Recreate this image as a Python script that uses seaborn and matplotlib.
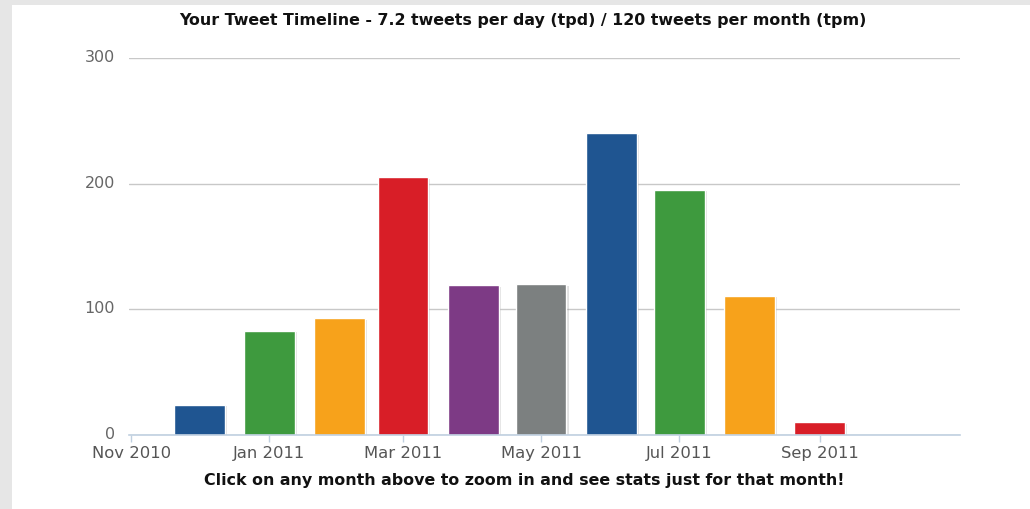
import matplotlib
matplotlib.use("Agg")
import matplotlib.pyplot as plt
import matplotlib.dates as mdates
import matplotlib.patheffects as pe
import matplotlib.transforms as mtransforms
from matplotlib.patches import Rectangle
import seaborn as sns
import pandas as pd

# ---- data ----
months = ["2010-12", "2011-01", "2011-02", "2011-03", "2011-04",
          "2011-05", "2011-06", "2011-07", "2011-08", "2011-09"]
tweets = [24, 83, 93, 205, 119, 120, 240, 195, 111, 10]
bar_colors = ["#1f5591", "#3e9a3e", "#f7a21b", "#d81e27", "#7d3a85",
              "#7c8080", "#1f5591", "#3e9a3e", "#f7a21b", "#d81e27"]
tick_months = ["2010-11", "2011-01", "2011-03", "2011-05", "2011-07", "2011-09"]
tick_labels = ["Nov 2010", "Jan 2011", "Mar 2011", "May 2011", "Jul 2011", "Sep 2011"]
y_ticks = [0, 100, 200, 300]
title = "Your Tweet Timeline - 7.2 tweets per day (tpd) / 120 tweets per month (tpm)"
footer = "Click on any month above to zoom in and see stats just for that month!"

sns.set_theme(style="white")
plt.rcParams["font.family"] = ["DejaVu Sans"]

W, H = 1030, 509
fig = plt.figure(figsize=(W / 100, H / 100), dpi=100, facecolor="#e6e6e6")
fig.add_artist(Rectangle((12 / W, 0), 1 - 12 / W, 1 - 5 / H,
                         transform=fig.transFigure, facecolor="white",
                         edgecolor="none", zorder=0))

ax = fig.add_axes([129 / W, 74 / H, (960 - 129) / W, (435 - 58) / H])
ax.set_facecolor("none")

df = pd.DataFrame({
    "x": mdates.date2num(pd.to_datetime(months)),
    "tweets": tweets,
    "month": months,
})
sns.barplot(data=df, x="x", y="tweets", hue="month", palette=bar_colors,
            native_scale=True, dodge=False, legend=False, ax=ax,
            width=0.8, saturation=1)

for p in ax.patches:
    p.set_path_effects([pe.SimplePatchShadow(offset=(1.5, -1), shadow_rgbFace="#888888", alpha=0.25),
                        pe.Normal()])

x0 = mdates.date2num(pd.Timestamp("2010-11-01"))
x1 = mdates.date2num(pd.Timestamp("2011-11-02"))
ax.set_xlim(x0 - 1, x1)
ax.set_xticks(mdates.date2num(pd.to_datetime(tick_months)))
ax.set_xticklabels(tick_labels)
ax.set_ylim(0, 300)
ax.set_yticks(y_ticks)
ax.set_yticklabels([str(v) for v in y_ticks])
ax.set_xlabel("")
ax.set_ylabel("")

ax.set_axisbelow(True)
ax.yaxis.grid(True, color="#c8c8c8", lw=1)
ax.xaxis.grid(False)
for s in ["top", "right", "left"]:
    ax.spines[s].set_visible(False)
ax.spines["bottom"].set_color("#c0d0e0")
ax.spines["bottom"].set_linewidth(1.2)
ax.tick_params(axis="x", length=5, width=1, color="#c0d0e0", direction="out",
               labelcolor="#555555", labelsize=11.8, pad=3, bottom=True)
ax.tick_params(axis="y", length=0, labelcolor="#666666", labelsize=11.5, pad=10)

# nudge y tick labels up slightly (as in the reference)
shift = mtransforms.ScaledTranslation(0, 2 / 100, fig.dpi_scale_trans)
for lbl in ax.get_yticklabels():
    lbl.set_transform(lbl.get_transform() + shift)

fig.text(523 / W, 1 - 20 / H, title, ha="center", va="center",
         fontsize=11.4, fontweight="bold", color="#111111")
fig.text(524 / W, 1 - 480 / H, footer, ha="center", va="center",
         fontsize=11.4, fontweight="bold", color="#111111")

fig.savefig("out.png", dpi=100, facecolor=fig.get_facecolor())
